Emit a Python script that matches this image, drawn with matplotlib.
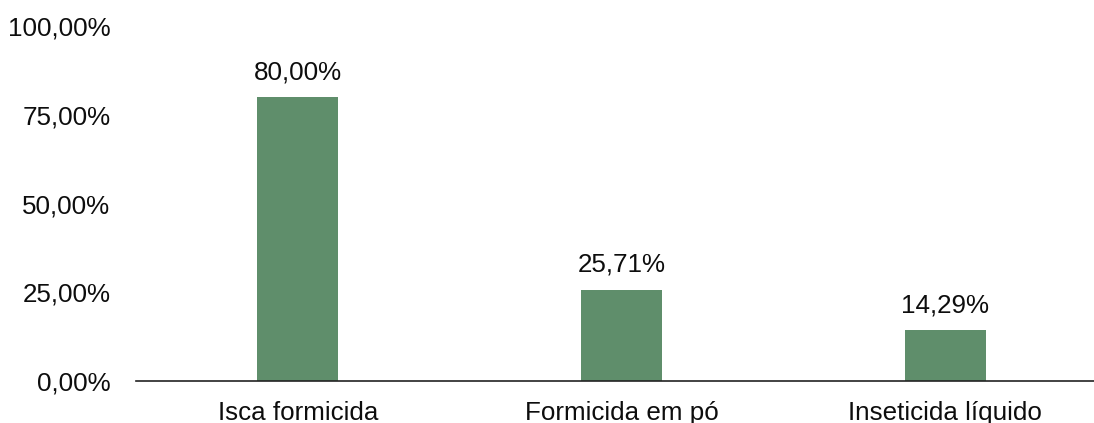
import matplotlib
matplotlib.use("Agg")
import matplotlib.pyplot as plt

categories = ["Isca formicida", "Formicida em pó", "Inseticida líquido"]
values = [80.00, 25.71, 14.29]
yticks = [0, 25, 50, 75, 100]

plt.rcParams["font.family"] = ["Liberation Sans", "DejaVu Sans"]

FS = 18.7
TXT = "#0d0d0d"

fig = plt.figure(figsize=(10.94, 4.23), dpi=100)
ax = fig.add_axes([136 / 1094, 42 / 423, 1 - 136 / 1094, 354.7 / 423])

x = range(len(categories))
bars = ax.bar(x, values, width=0.25, color="#5f8e6b")

def fmt(v):
    return f"{v:.2f}%".replace(".", ",")

for b, v in zip(bars, values):
    ax.annotate(fmt(v), (b.get_x() + b.get_width() / 2, v),
                xytext=(0, 9.5), textcoords="offset points",
                ha="center", va="bottom", fontsize=FS, color=TXT)

ax.set_xlim(-0.5, 2.46)
ax.set_ylim(0, 100)
ax.set_yticks(yticks)
ax.set_yticklabels([fmt(t) for t in yticks])
ax.set_xticks(list(x))
ax.set_xticklabels(categories)
ax.tick_params(axis="y", length=0, pad=18.5, labelsize=FS, labelcolor=TXT)
ax.tick_params(axis="x", length=0, pad=14.5, labelsize=FS, labelcolor=TXT)

for s in ("top", "right", "left"):
    ax.spines[s].set_visible(False)
ax.spines["bottom"].set_linewidth(1.2)
ax.spines["bottom"].set_color("#222222")

fig.savefig("out.png", dpi=100)
